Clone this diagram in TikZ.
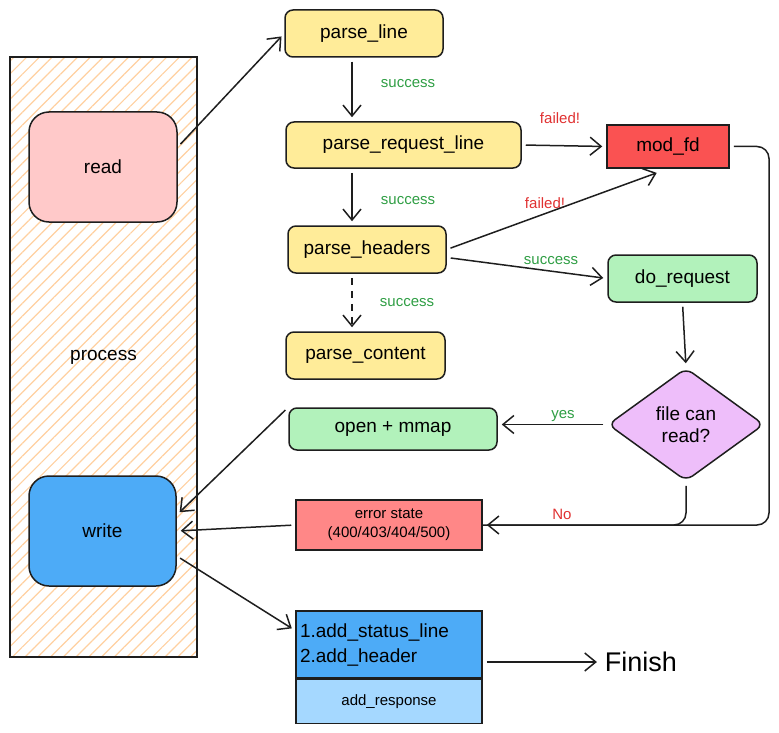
\documentclass[tikz,border=0pt]{standalone}
\usepackage{fontspec}
\setmainfont{Liberation Sans}
\usetikzlibrary{arrows.meta,positioning,shapes.geometric,patterns.meta}

\definecolor{ink}{HTML}{1E1E1E}
\definecolor{hatch}{HTML}{FFD0A0}
\definecolor{readpink}{HTML}{FFC9C9}
\definecolor{writeblue}{HTML}{4DABF7}
\definecolor{lightblue}{HTML}{A5D8FF}
\definecolor{parseyel}{HTML}{FFEC99}
\definecolor{modred}{HTML}{FA5252}
\definecolor{errred}{HTML}{FF8787}
\definecolor{okgreen}{HTML}{B2F2BB}
\definecolor{decpurple}{HTML}{EEBEFA}
\definecolor{txtgreen}{HTML}{2F9E44}
\definecolor{txtred}{HTML}{E03131}

\begin{document}
\begin{tikzpicture}[
    x=1pt, y=-1pt,
    line width=1.5pt, draw=ink,
    font=\fontsize{19}{22}\selectfont,
    bx/.style={draw=ink, rounded corners=8pt, inner sep=0pt, minimum height=47pt},
    sq/.style={draw=ink, inner sep=0pt},
    lb/.style={font=\fontsize{15}{17}\selectfont, inner sep=1pt},
    arr/.style={-{Straight Barb[length=11pt,width=18pt,line width=1.5pt]},
                shorten >=4pt, shorten <=4pt},
  ]
  \useasboundingbox (0,0) rectangle (779,733);

  % --- colonna di sinistra: il processo ---
  \node[sq, minimum width=187pt, minimum height=600pt,
        pattern={Lines[angle=45,distance=9pt,line width=1.2pt]}, pattern color=hatch]
        (proc) at (103.5,357) {process};
  \node[bx, rounded corners=20pt, fill=readpink, minimum width=148pt, minimum height=110pt]
        (read) at (103,167) {read};
  \node[bx, rounded corners=20pt, fill=writeblue, minimum width=147pt, minimum height=110pt]
        (write) at (102.5,531) {write};

  % --- catena di parsing ---
  \node[bx, fill=parseyel, minimum width=158pt] (pl)  at (364,33.5)   {parse\_line};
  \node[bx, fill=parseyel, minimum width=235pt, minimum height=46pt]
        (prl) at (403.5,145) {parse\_request\_line};
  \node[bx, fill=parseyel, minimum width=158pt] (ph)  at (367,249.5)  {parse\_headers};
  \node[bx, fill=parseyel, minimum width=159pt] (pc)  at (365.5,355.5) {parse\_content};

  % --- ramo di destra ---
  \node[sq, fill=modred, minimum width=122pt, minimum height=43pt] (mod) at (668,146.5) {mod\_fd};
  \node[bx, fill=okgreen, minimum width=149pt] (dor) at (682.5,278.5) {do\_request};
  \node[diamond, draw=ink, fill=decpurple, rounded corners=8pt, inner sep=0pt,
        minimum width=156pt, minimum height=113pt, align=center]
        (dec) at (686,424.5) {file can\\read?};
  \node[bx, fill=okgreen, minimum width=208pt, minimum height=42pt] (om) at (393,429) {open + mmap};
  \node[sq, fill=errred, minimum width=186pt, minimum height=50pt, align=center,
        font=\fontsize{15}{19}\selectfont]
        (err) at (389,525) {error state\\(400/403/404/500)};

  % --- risposta ---
  \node[sq, fill=writeblue, minimum width=186pt, minimum height=67pt, text width=178pt,
        align=left, font=\fontsize{19}{25}\selectfont]
        (hdr) at (389,644.5) {1.add\_status\_line\\2.add\_header};
  \node[sq, fill=lightblue, minimum width=186pt, minimum height=44pt,
        font=\fontsize{15}{18}\selectfont, below=0pt of hdr] (resp) {add\_response};
  \node[font=\fontsize{27}{30}\selectfont] (fin) at (641,662) {Finish};

  % --- etichette ---
  \node[lb, text=txtgreen] (s1) at (408,84)  {success};
  \node[lb, text=txtgreen] (s2) at (408,201) {success};
  \node[lb, text=txtgreen] (s3) at (407,303) {success};
  \node[lb, text=txtgreen] (s4) at (551,261) {success};
  \node[lb, text=txtgreen] (s5) at (563,416) {yes};
  \node[lb, text=txtred]   (f1) at (560,118) {failed!};
  \node[lb, text=txtred]   (f2) at (545,203) {failed!};
  \node[lb, text=txtred]   (n1) at (562,514) {No};

  % --- frecce ---
  \coordinate (col) at (352,0);
  \coordinate (corner) at (769,525);

  \draw[arr] ([yshift=20pt]read.east) -- (pl.west);
  \draw[arr] (pl.south -| col) -- (prl.north -| col);
  \draw[arr] (prl.east) -- (mod.west);
  \draw[arr] (prl.south -| col) -- (ph.north -| col);
  \draw[arr, shorten >=12pt] (ph.east) -- (mod.south);
  \draw[arr] ([yshift=-8pt]ph.east) -- (dor.west);
  \draw[arr, dash pattern=on 7pt off 6pt] (ph.south -| col) -- (pc.north -| col);
  \draw[arr] (dor.south) -- (dec.north);
  \draw[arr] (dec.west) -- (om.east |- dec.west);
  \draw[arr, rounded corners=12pt] (mod.east) -| (corner) -- (err.east);
  \draw[rounded corners=12pt, shorten <=4pt] (dec.south) |- (err.east);
  \draw[arr] (om.north west) -- ([yshift=16pt]write.east);
  \draw[arr] (err.west) -- (write.east);
  \draw[arr] ([yshift=-25pt]write.east) -- ([yshift=14pt]hdr.west);
  \draw[arr] (fin.west -| hdr.east) -- (fin.west);

\end{tikzpicture}
\end{document}
